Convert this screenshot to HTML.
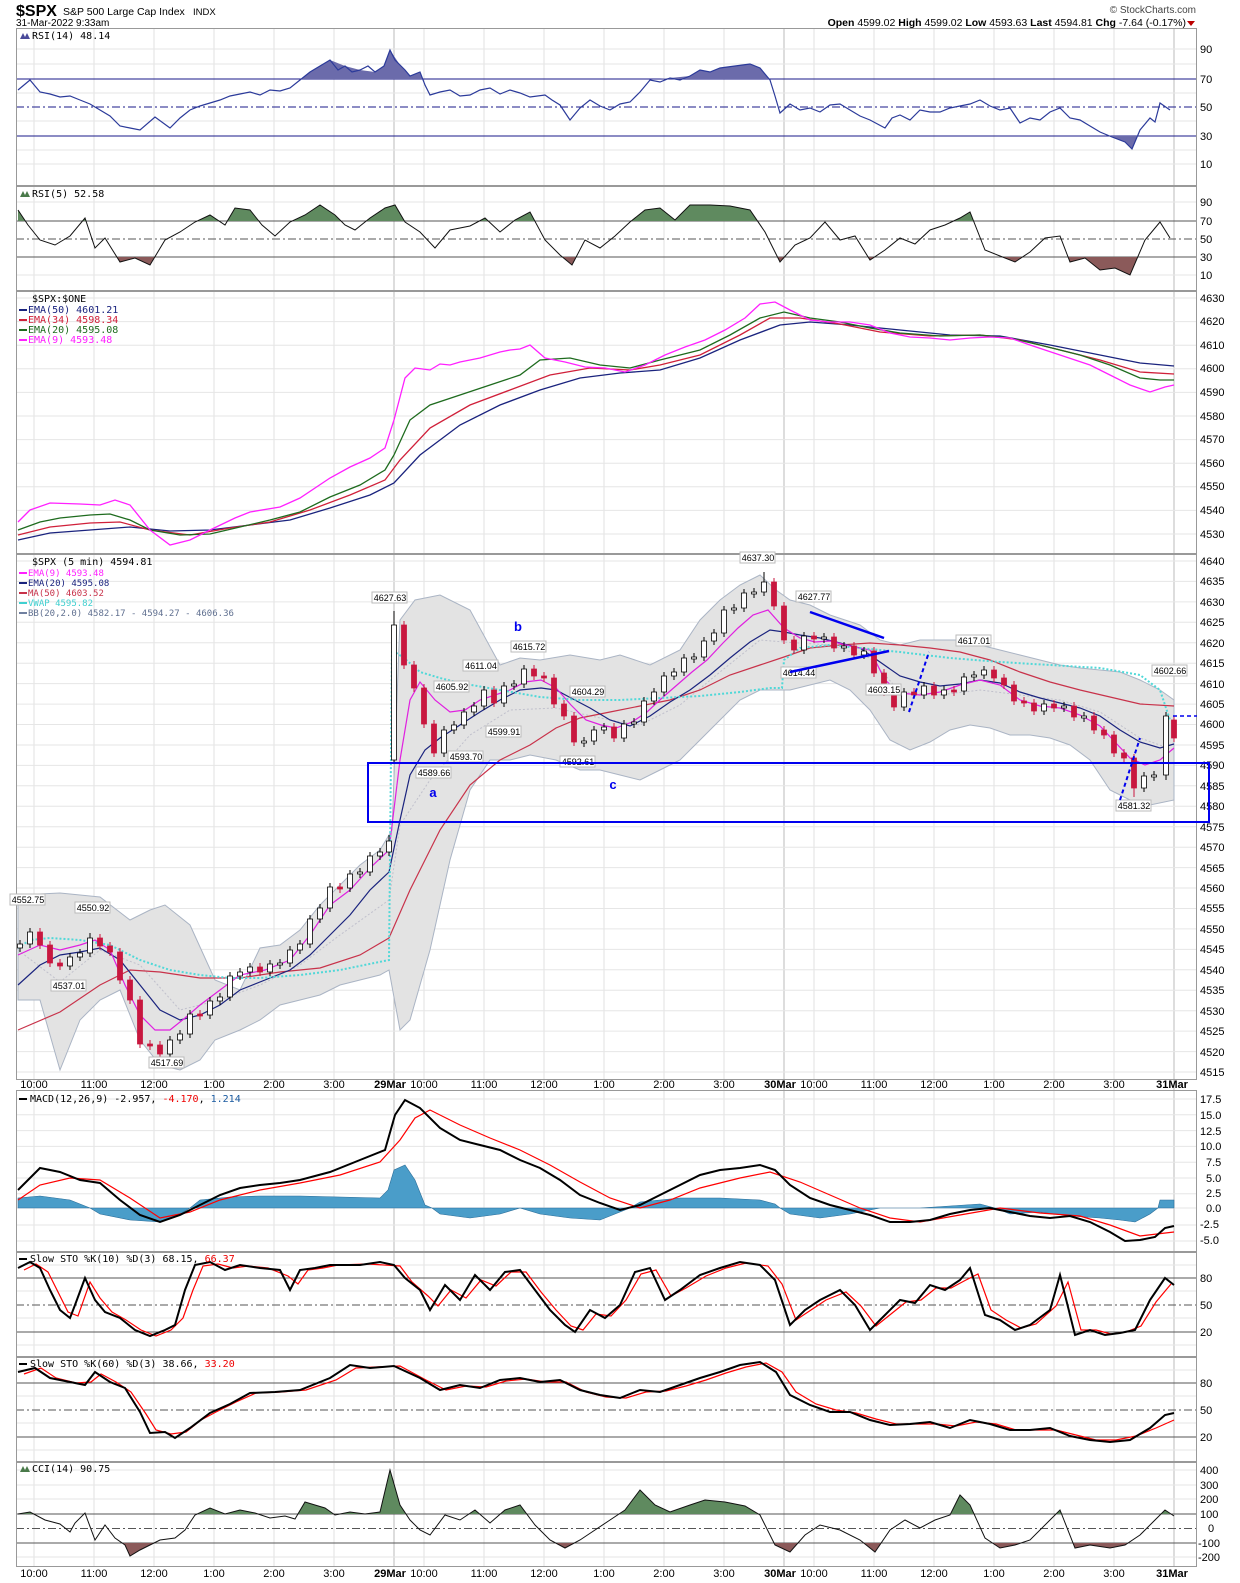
<!DOCTYPE html>
<html><head><meta charset="utf-8">
<style>
html,body{margin:0;padding:0;background:#fff;}
svg{display:block;font-family:"Liberation Sans",sans-serif;}
.ax{font-size:11px;fill:#000;}
.lg{font-size:10px;font-family:"DejaVu Sans Mono","Liberation Mono",monospace;}
.an{font-size:9px;fill:#000;}
</style></head><body>
<svg xmlns="http://www.w3.org/2000/svg" width="1240" height="1583" viewBox="0 0 1240 1583">
<defs>
<clipPath id="cp4"><rect x="16" y="554" width="1181" height="526"/></clipPath>
<clipPath id="r14a"><rect x="16" y="28" width="1181" height="51"/></clipPath>
<clipPath id="r14b"><rect x="16" y="136" width="1181" height="50"/></clipPath>
<clipPath id="r5a"><rect x="16" y="186" width="1181" height="35"/></clipPath>
<clipPath id="r5b"><rect x="16" y="257" width="1181" height="34"/></clipPath>
<clipPath id="cca"><rect x="16" y="1462" width="1181" height="52"/></clipPath>
<clipPath id="ccb"><rect x="16" y="1543" width="1181" height="24"/></clipPath>
</defs>

<!-- header -->
<text x="16" y="16" style="font-size:16px;font-weight:bold">$SPX</text>
<text x="63" y="15" style="font-size:10.5px">S&amp;P 500 Large Cap Index</text>
<text x="193" y="15" style="font-size:9.5px">INDX</text>
<text x="16" y="26" style="font-size:10px">31-Mar-2022 9:33am</text>
<text x="1196" y="13" text-anchor="end" style="font-size:10px;fill:#444">© StockCharts.com</text>
<text x="1186" y="26" text-anchor="end" style="font-size:10.5px"><tspan font-weight="bold">Open</tspan> 4599.02 <tspan font-weight="bold">High</tspan> 4599.02 <tspan font-weight="bold">Low</tspan> 4593.63 <tspan font-weight="bold">Last</tspan> 4594.81 <tspan font-weight="bold">Chg</tspan> -7.64 (-0.17%)</text>
<path d="M1187,21 L1195,21 L1191,26 Z" fill="#b00"/>

<!-- grid -->
<path stroke="#e2e2e2" fill="none" d="M34,28V1567M94,28V1567M154,28V1567M214,28V1567M274,28V1567M334,28V1567M424,28V1567M484,28V1567M544,28V1567M604,28V1567M664,28V1567M724,28V1567M814,28V1567M874,28V1567M934,28V1567M994,28V1567M1054,28V1567M1114,28V1567"/>
<path stroke="#bbb" fill="none" d="M394,28V1567M784,28V1567M1174,28V1567"/>
<path stroke="#e6e6e6" fill="none" d="M16,49H1197M16,64H1197M16,93H1197M16,121H1197M16,150H1197M16,164H1197
M16,202H1197M16,275H1197
M16,298H1197M16,321.6H1197M16,345.2H1197M16,368.8H1197M16,392.4H1197M16,416H1197M16,439.6H1197M16,463.2H1197M16,486.8H1197M16,510.4H1197M16,534H1197
M16,561H1197M16,581.4H1197M16,601.9H1197M16,622.3H1197M16,642.8H1197M16,663.2H1197M16,683.6H1197M16,704.1H1197M16,724.5H1197M16,745H1197M16,765.4H1197M16,785.8H1197M16,806.3H1197M16,826.7H1197M16,847.2H1197M16,867.6H1197M16,888H1197M16,908.5H1197M16,928.9H1197M16,949.4H1197M16,969.8H1197M16,990.2H1197M16,1010.7H1197M16,1031.1H1197M16,1051.6H1197M16,1072H1197
M16,1099H1197M16,1114.8H1197M16,1130.6H1197M16,1146.4H1197M16,1162.2H1197M16,1178H1197M16,1193.8H1197M16,1208H1197M16,1225H1197M16,1241H1197
M16,1265H1197M16,1291H1197M16,1318H1197M16,1345H1197M16,1370H1197M16,1396H1197M16,1423H1197M16,1450H1197
M16,1470H1197M16,1485H1197M16,1499H1197M16,1557H1197"/>
<path stroke="#1a1a8a" fill="none" d="M16,79H1197M16,136H1197"/>
<path stroke="#1a1a8a" fill="none" stroke-dasharray="8,3,2,3" d="M16,107H1197"/>
<path stroke="#555" fill="none" d="M16,221H1197M16,257H1197M16,1278H1197M16,1332H1197M16,1383H1197M16,1437H1197M16,1514H1197M16,1543H1197"/>
<path stroke="#555" fill="none" stroke-dasharray="8,3,2,3" d="M16,239H1197M16,1305H1197M16,1410H1197M16,1528.5H1197"/>

<!-- RSI14 -->
<path clip-path="url(#r14a)" fill="#6b6bab" d="M18,90L30,80L40,92L60,97L80,100L100,110L120,126L140,130L155,117L170,128L190,110L210,103L230,96L250,92L270,90L290,88L300,80L310,72L320,66L330,60L345,66L360,70L375,72L384,66L390,50L400,65L410,76L420,72L430,95L450,90L470,95L490,88L510,90L530,97L545,95L560,105L570,120L590,100L610,110L630,102L650,80L670,78L690,76L700,70L710,72L720,68L735,66L750,64L760,68L770,80L780,113L1170,110L1170,79L18,79Z"/>
<path clip-path="url(#r14b)" fill="#6b6bab" d="M1080,120L1100,132L1112,137L1125,142L1132,149L1140,130L1150,118L1150,136L1080,136Z"/>
<path d="M18,90L30,80L40,92L50,94L60,97L70,96L80,100L90,104L100,110L110,116L120,126L130,128L140,130L155,117L170,128L180,118L190,110L200,106L210,103L220,100L230,96L240,94L250,92L260,95L270,90L280,91L290,88L300,80L310,72L320,66L330,60L338,70L345,66L352,72L360,70L368,66L375,72L384,66L390,50L395,60L400,65L405,70L410,76L420,72L425,85L430,95L440,92L450,90L460,96L470,95L480,90L490,88L500,94L510,90L520,93L530,97L545,95L552,100L560,105L570,120L580,108L590,100L600,106L610,110L620,104L630,102L640,92L650,80L660,82L670,78L680,80L690,76L700,70L710,72L720,68L735,66L750,64L760,68L770,80L775,96L780,113L790,104L800,110L810,108L820,112L830,105L840,104L850,110L860,116L870,120L885,128L892,118L900,115L910,120L920,110L930,112L940,112L950,108L960,106L970,104L980,100L990,106L1000,110L1010,108L1020,123L1030,118L1040,120L1050,112L1060,108L1070,118L1080,120L1090,126L1100,132L1112,137L1125,142L1132,149L1140,130L1150,118L1155,122L1160,103L1170,110" fill="none" stroke="#2b3a9a" stroke-width="1.2"/>

<!-- RSI5 -->
<path fill="#5f8a5f" clip-path="url(#r5a)" d="M18,210L28,225L40,240L55,245L70,236L85,218L95,248L105,238L120,262L135,258L150,265L165,240L180,232L195,222L210,215L225,225L235,208L250,210L262,225L275,236L290,222L305,215L320,205L335,215L345,225L355,230L370,218L385,208L395,205L405,222L420,232L435,248L450,230L470,226L485,218L500,232L515,220L530,212L545,240L560,255L572,265L585,240L600,248L615,236L630,222L645,210L660,208L675,220L690,205L710,205L730,206L750,210L765,232L780,262L795,245L810,238L825,222L840,240L855,236L870,260L885,250L900,238L915,244L930,230L945,225L960,218L970,212L985,250L1000,256L1015,262L1030,252L1045,238L1060,236L1070,262L1085,258L1100,270L1115,268L1130,275L1145,240L1160,222L1170,238L1170,221L18,221Z"/>
<path fill="#8b5a5a" clip-path="url(#r5b)" d="M18,210L28,225L40,240L55,245L70,236L85,218L95,248L105,238L120,262L135,258L150,265L165,240L180,232L195,222L210,215L225,225L235,208L250,210L262,225L275,236L290,222L305,215L320,205L335,215L345,225L355,230L370,218L385,208L395,205L405,222L420,232L435,248L450,230L470,226L485,218L500,232L515,220L530,212L545,240L560,255L572,265L585,240L600,248L615,236L630,222L645,210L660,208L675,220L690,205L710,205L730,206L750,210L765,232L780,262L795,245L810,238L825,222L840,240L855,236L870,260L885,250L900,238L915,244L930,230L945,225L960,218L970,212L985,250L1000,256L1015,262L1030,252L1045,238L1060,236L1070,262L1085,258L1100,270L1115,268L1130,275L1145,240L1160,222L1170,238L1170,257L18,257Z"/>
<path fill="none" stroke="#111" d="M18,210L28,225L40,240L55,245L70,236L85,218L95,248L105,238L120,262L135,258L150,265L165,240L180,232L195,222L210,215L225,225L235,208L250,210L262,225L275,236L290,222L305,215L320,205L335,215L345,225L355,230L370,218L385,208L395,205L405,222L420,232L435,248L450,230L470,226L485,218L500,232L515,220L530,212L545,240L560,255L572,265L585,240L600,248L615,236L630,222L645,210L660,208L675,220L690,205L710,205L730,206L750,210L765,232L780,262L795,245L810,238L825,222L840,240L855,236L870,260L885,250L900,238L915,244L930,230L945,225L960,218L970,212L985,250L1000,256L1015,262L1030,252L1045,238L1060,236L1070,262L1085,258L1100,270L1115,268L1130,275L1145,240L1160,222L1170,238"/>

<!-- EMA panel -->
<g fill="none" stroke-width="1.3">
<path stroke="#1a237e" d="M18,540L50,533L90,530L130,527L170,531L210,530L250,525L290,520L330,508L370,495L394,483L420,455L460,425L500,405L540,390L580,378L620,373L660,370L700,358L740,340L780,325L810,322L850,325L900,330L950,335L1000,336L1050,345L1100,355L1140,363L1174,366"/>
<path stroke="#d0203a" d="M18,535L50,527L90,523L120,522L150,530L190,535L230,528L270,522L310,510L350,495L385,480L400,460L430,428L470,405L510,390L550,375L590,368L630,370L660,365L700,355L740,335L770,318L800,318L840,324L880,332L930,336L980,335L1020,340L1060,350L1100,360L1140,372L1174,374"/>
<path stroke="#1e6b1e" d="M18,530L40,522L60,518L90,515L110,514L130,520L150,530L180,535L210,534L240,527L270,520L300,512L330,497L360,485L385,470L394,455L410,420L430,405L460,395L490,385L520,375L540,360L570,358L600,365L630,368L660,360L700,350L730,335L760,318L784,312L810,318L840,322L870,328L900,333L940,336L980,335L1010,338L1040,345L1080,355L1110,365L1140,378L1160,380L1174,380"/>
<path stroke="#ff20ff" d="M18,522L30,510L50,503L80,504L100,505L115,500L130,505L150,530L170,545L190,540L210,530L235,518L250,512L280,507L300,498L330,478L350,467L370,458L385,448L394,420L405,378L415,368L430,370L440,364L450,365L460,362L470,360L480,358L490,355L500,352L510,350L520,349L530,345L545,358L565,362L585,367L605,368L625,372L645,365L665,355L685,347L705,340L725,330L745,318L760,304L775,302L790,310L810,320L830,322L850,322L870,325L890,333L910,337L930,338L950,340L970,338L990,337L1010,338L1030,345L1060,355L1090,365L1110,375L1130,385L1150,392L1165,387L1174,385"/>
</g>

<!-- Price panel -->
<g clip-path="url(#cp4)">
<path fill="#e3e3e3" stroke="#aab4c4" d="M18,895L60,893L100,897L130,920L150,910L165,905L190,925L215,980L240,990L260,948L280,945L300,930L320,905L340,885L360,865L380,850L392,830L400,620L415,600L440,595L470,610L500,665L520,658L540,660L570,655L600,660L620,655L650,665L680,650L700,620L720,600L740,585L760,575L776,590L790,600L810,605L830,615L860,625L880,640L900,645L920,640L960,640L980,645L1000,650L1020,655L1040,660L1060,665L1080,668L1100,670L1120,672L1140,680L1160,690L1174,700L1174,800L1150,805L1130,800L1110,790L1090,760L1070,745L1050,738L1030,735L1010,735L990,728L970,725L950,730L930,742L910,750L890,740L870,710L850,690L830,680L810,685L790,690L760,690L740,700L720,720L700,740L680,760L660,770L640,780L620,775L600,770L580,770L556,760L530,755L510,760L490,760L470,790L450,860L430,950L410,1020L400,1030L389,970L380,975L360,980L340,985L320,995L300,1000L280,1005L260,1020L240,1030L215,1040L200,1060L180,1070L160,1065L140,1040L120,990L100,1000L80,1020L60,1070L40,1000L18,1000Z"/>
<path fill="none" stroke="#c0c0cc" stroke-dasharray="2,2" d="M18,950L60,982L100,950L140,965L180,1010L220,1000L260,985L300,965L340,935L389,900L400,825L430,780L470,735L510,710L556,708L600,718L640,725L680,705L720,672L760,640L784,642L830,645L870,658L900,692L940,695L980,690L1020,695L1060,700L1100,712L1140,738L1174,750"/>
<path fill="none" stroke="#c8324a" stroke-width="1.2" d="M18,1030L60,1012L100,985L130,970L160,972L200,978L240,978L280,972L320,968L360,955L389,938L410,890L440,830L470,785L500,760L530,745L556,728L580,718L610,712L640,706L670,700L700,690L730,675L760,665L784,657L810,648L840,645L870,643L900,645L930,648L960,652L990,660L1020,672L1050,682L1080,690L1110,697L1140,704L1174,706"/>
<path fill="none" stroke="#1a237e" stroke-width="1.2" d="M18,985L40,965L60,955L80,952L100,948L120,960L140,985L160,1010L180,1020L200,1015L220,1005L240,990L265,980L290,970L310,955L330,935L350,915L370,890L389,872L400,820L410,775L425,750L440,738L460,725L480,712L500,700L520,690L541,688L556,690L571,698L590,708L610,720L630,726L650,716L670,702L690,690L710,675L730,658L750,642L770,630L784,632L800,635L820,638L840,643L860,648L880,662L900,676L920,682L940,686L960,684L980,680L1000,683L1020,692L1040,698L1060,703L1080,708L1100,716L1120,730L1140,742L1160,748L1174,744"/>
<path fill="none" stroke="#e020e0" stroke-width="1.2" d="M18,955L40,945L60,950L80,945L95,940L110,950L125,985L140,1015L155,1030L170,1030L185,1018L200,1005L220,990L240,975L265,970L290,960L310,935L330,905L350,890L370,868L389,850L400,760L410,700L420,682L435,700L450,712L465,710L480,700L495,695L510,690L525,682L541,680L556,688L571,705L586,720L601,725L616,728L632,722L647,712L662,698L677,685L692,672L707,660L723,643L738,628L753,615L768,610L784,628L800,638L815,642L830,641L850,646L870,650L885,680L900,693L920,695L940,692L960,685L980,680L1000,685L1020,700L1040,706L1060,708L1080,715L1100,726L1115,742L1130,758L1145,765L1160,760L1174,748"/>
<path fill="none" stroke="#50d8d8" stroke-width="2" stroke-dasharray="2,2" d="M18,948L30,940L50,938L80,940L110,945L140,960L170,970L200,975L230,978L260,978L300,975L340,970L389,960L392,650L404,658L420,672L440,678L460,683L500,690L540,697L580,700L620,700L660,698L700,696L740,692L770,688L782,688L784,660L800,648L830,645L860,648L900,652L950,658L1000,662L1050,665L1100,668L1140,675L1160,690L1170,720"/>
<path fill="none" stroke="#000" d="M20,940V952M30,928V948M70,953V970M80,949V961M90,933V957M170,1036V1058M180,1030V1044M190,1010V1038M210,997V1019M220,993V1005M230,972V1001M240,968V980M250,963V976M270,960V976M280,959V969M290,946V967M300,940V954M310,915V948M320,904V923M330,883V912M350,870V892M360,868V878M370,852V876M380,848V860M389,835V856M394,611V764M444,726V757M454,721V734M464,708V729M474,702V716M484,686V710M504,682V707M514,680V690M524,665V688M584,737V747M594,726V745M604,723V734M624,720V742M634,718V728M644,697V726M654,688V705M664,672V696M674,668V680M684,654V676M694,653V663M704,637V661M714,629V645M724,606V637M734,604V614M744,589V612M754,588V598M764,572V596M804,632V654M824,633V643M844,642V652M864,647V659M904,688V711M924,682V699M944,686V699M964,673V695M974,671V681M984,666V679M1044,700V715M1064,702V712M1084,712V722M1144,772V792M1154,771V781M1166,712V780"/>
<path fill="none" stroke="#c8173f" d="M40,928V949M50,941V967M60,959V970M100,934V950M110,942V956M120,948V984M130,976V1004M140,996V1048M150,1040V1050M160,1041V1063M200,1010V1020M260,963V976M340,883V893M404,621V669M414,661V692M424,684V728M434,720V757M494,686V707M534,665V680M544,672V682M554,674V708M564,700V720M574,712V746M614,723V742M774,578V610M784,602V644M794,636V654M814,632V643M834,633V652M854,642V659M874,647V677M884,669V696M894,688V711M914,688V699M934,682V699M954,686V696M994,666V682M1004,674V689M1014,681V705M1024,697V707M1034,699V715M1054,700V712M1074,702V721M1094,712V734M1104,726V739M1114,731V757M1124,749V762M1134,754V797M1174,716V742"/>
<path fill="#fff" stroke="#000" stroke-width="0.8" d="M17.5,944h5v4h-5zM27.5,932h5v12h-5zM67.5,957h5v9h-5zM77.5,953h5v4h-5zM87.5,938h5v15h-5zM167.5,1040h5v14h-5zM177.5,1034h5v6h-5zM187.5,1014h5v20h-5zM207.5,1001h5v14h-5zM217.5,997h5v4h-5zM227.5,976h5v21h-5zM237.5,972h5v4h-5zM247.5,967h5v5h-5zM267.5,964h5v8h-5zM277.5,963h5v2h-5zM287.5,950h5v13h-5zM297.5,944h5v6h-5zM307.5,919h5v25h-5zM317.5,908h5v11h-5zM327.5,887h5v21h-5zM347.5,874h5v14h-5zM357.5,872h5v2h-5zM367.5,856h5v16h-5zM377.5,852h5v4h-5zM386.5,841h5v11h-5zM391.5,625h5v135h-5zM441.5,730h5v23h-5zM451.5,725h5v5h-5zM461.5,712h5v13h-5zM471.5,706h5v6h-5zM481.5,690h5v16h-5zM501.5,686h5v17h-5zM511.5,684h5v2h-5zM521.5,669h5v15h-5zM581.5,741h5v2h-5zM591.5,730h5v11h-5zM601.5,727h5v3h-5zM621.5,724h5v14h-5zM631.5,722h5v2h-5zM641.5,701h5v21h-5zM651.5,692h5v9h-5zM661.5,676h5v16h-5zM671.5,672h5v4h-5zM681.5,658h5v14h-5zM691.5,657h5v2h-5zM701.5,641h5v16h-5zM711.5,633h5v8h-5zM721.5,610h5v23h-5zM731.5,608h5v2h-5zM741.5,593h5v15h-5zM751.5,592h5v2h-5zM761.5,582h5v10h-5zM801.5,636h5v14h-5zM821.5,637h5v2h-5zM841.5,646h5v2h-5zM861.5,651h5v4h-5zM901.5,692h5v15h-5zM921.5,686h5v9h-5zM941.5,690h5v5h-5zM961.5,677h5v14h-5zM971.5,675h5v2h-5zM981.5,670h5v5h-5zM1041.5,704h5v7h-5zM1061.5,706h5v2h-5zM1081.5,716h5v2h-5zM1141.5,776h5v12h-5zM1151.5,775h5v2h-5zM1163.5,716h5v59h-5z"/>
<path fill="#c8173f" stroke="#c8173f" stroke-width="0.8" d="M37.5,932h5v13h-5zM47.5,945h5v18h-5zM57.5,963h5v3h-5zM97.5,938h5v8h-5zM107.5,946h5v6h-5zM117.5,952h5v28h-5zM127.5,980h5v20h-5zM137.5,1000h5v44h-5zM147.5,1044h5v2h-5zM157.5,1045h5v9h-5zM197.5,1014h5v2h-5zM257.5,967h5v5h-5zM337.5,887h5v2h-5zM401.5,625h5v40h-5zM411.5,665h5v23h-5zM421.5,688h5v36h-5zM431.5,724h5v29h-5zM491.5,690h5v13h-5zM531.5,669h5v7h-5zM541.5,676h5v2h-5zM551.5,678h5v26h-5zM561.5,704h5v12h-5zM571.5,716h5v26h-5zM611.5,727h5v11h-5zM771.5,582h5v24h-5zM781.5,606h5v34h-5zM791.5,640h5v10h-5zM811.5,636h5v3h-5zM831.5,637h5v11h-5zM851.5,646h5v9h-5zM871.5,651h5v22h-5zM881.5,673h5v19h-5zM891.5,692h5v15h-5zM911.5,692h5v3h-5zM931.5,686h5v9h-5zM951.5,690h5v2h-5zM991.5,670h5v8h-5zM1001.5,678h5v7h-5zM1011.5,685h5v16h-5zM1021.5,701h5v2h-5zM1031.5,703h5v8h-5zM1051.5,704h5v4h-5zM1071.5,706h5v11h-5zM1091.5,716h5v14h-5zM1101.5,730h5v5h-5zM1111.5,735h5v18h-5zM1121.5,753h5v5h-5zM1131.5,758h5v30h-5zM1171.5,720h5v18h-5z"/>
</g>

<!-- MACD -->
<path fill="#4a9dc9" stroke="#2a6d99" stroke-width="0.6" d="M18,1208L18,1198L40,1196L70,1200L90,1208L100,1214L130,1220L160,1222L180,1214L190,1208L200,1200L230,1197L260,1196L300,1196L340,1197L380,1198L388,1190L394,1170L405,1165L415,1180L425,1205L432,1208L440,1214L470,1218L500,1214L520,1208L540,1214L570,1218L600,1220L620,1212L630,1208L640,1202L680,1198L720,1198L760,1200L775,1204L780,1208L790,1214L820,1218L850,1214L870,1210L880,1208L920,1208L950,1206L980,1204L995,1208L1010,1214L1040,1212L1070,1216L1100,1218L1120,1220L1135,1222L1150,1214L1158,1208L1160,1200L1174,1200L1174,1208Z"/>
<path fill="none" stroke="#f00" stroke-width="1.2" d="M18,1200L40,1185L70,1178L100,1180L130,1198L160,1218L190,1212L220,1200L260,1190L300,1183L340,1175L380,1162L400,1140L415,1118L430,1110L460,1125L490,1138L520,1150L550,1165L580,1182L610,1198L640,1208L670,1200L700,1188L740,1178L770,1172L800,1182L830,1195L860,1208L890,1218L920,1222L960,1215L1000,1208L1040,1213L1080,1216L1110,1225L1140,1236L1174,1232"/>
<path fill="none" stroke="#000" stroke-width="2" d="M18,1190L40,1168L60,1172L80,1180L100,1183L120,1200L140,1215L160,1222L180,1215L200,1205L220,1195L240,1188L260,1185L280,1183L300,1180L330,1172L360,1160L385,1150L395,1115L405,1100L420,1108L440,1128L460,1140L480,1145L500,1150L520,1160L540,1168L560,1180L580,1195L600,1203L620,1210L640,1205L660,1195L680,1185L700,1175L720,1170L740,1168L760,1165L775,1170L790,1185L810,1198L830,1205L850,1210L870,1215L890,1222L910,1222L930,1220L950,1214L970,1210L990,1208L1010,1212L1030,1216L1050,1218L1070,1216L1090,1222L1110,1232L1125,1241L1140,1240L1155,1237L1165,1228L1174,1226"/>

<!-- STO10 -->
<path fill="none" stroke="#f00" stroke-width="1.2" d="M24,1270L36,1264L48,1272L58,1292L68,1312L78,1316L90,1282L100,1298L112,1312L126,1320L141,1330L156,1336L171,1330L183,1318L193,1290L203,1266L218,1264L233,1268L248,1266L268,1268L288,1276L298,1284L308,1270L323,1268L338,1265L368,1264L400,1266L412,1282L428,1296L438,1306L451,1290L466,1298L481,1280L496,1286L511,1272L526,1272L541,1292L556,1310L571,1326L583,1330L596,1314L611,1316L626,1300L641,1274L656,1270L671,1296L686,1288L706,1276L726,1268L746,1263L768,1266L782,1284L796,1320L811,1310L826,1300L846,1292L861,1306L876,1326L891,1314L906,1302L921,1300L936,1288L951,1288L966,1280L978,1274L991,1310L1006,1320L1021,1328L1036,1324L1056,1306L1068,1282L1081,1330L1096,1330L1111,1334L1126,1332L1141,1326L1156,1302L1171,1284"/>
<path fill="none" stroke="#000" stroke-width="2" d="M18,1268L30,1262L40,1268L50,1290L60,1310L70,1318L75,1305L85,1278L95,1300L105,1312L120,1318L135,1330L150,1336L165,1330L175,1325L185,1290L195,1265L210,1262L225,1270L240,1265L260,1268L280,1270L290,1290L300,1270L315,1268L330,1265L360,1265L380,1262L394,1265L405,1278L420,1290L430,1310L445,1285L460,1300L475,1275L490,1290L505,1272L520,1270L535,1290L550,1310L565,1325L575,1332L590,1310L605,1318L620,1305L635,1272L650,1268L665,1300L680,1290L700,1275L720,1268L740,1262L760,1265L775,1280L790,1325L805,1310L820,1300L840,1290L855,1305L870,1330L885,1315L900,1300L915,1303L930,1285L945,1290L960,1280L970,1268L985,1315L1000,1320L1015,1330L1030,1325L1050,1310L1060,1275L1075,1335L1090,1330L1105,1335L1120,1333L1135,1330L1150,1300L1165,1278L1174,1285"/>

<!-- STO60 -->
<path fill="none" stroke="#f00" stroke-width="1.2" d="M24,1374L41,1368L56,1378L76,1383L91,1382L101,1374L116,1382L131,1392L146,1414L156,1430L171,1434L186,1432L201,1420L216,1412L236,1402L256,1393L281,1392L306,1390L336,1380L356,1368L376,1367L400,1366L426,1380L446,1390L466,1386L486,1387L506,1381L526,1379L546,1382L566,1382L586,1392L606,1397L626,1398L646,1392L666,1391L686,1386L706,1380L726,1373L746,1367L766,1363L782,1372L796,1392L816,1404L836,1410L856,1413L876,1419L896,1424L916,1424L936,1424L956,1426L976,1422L996,1424L1016,1430L1036,1430L1056,1430L1076,1435L1096,1440L1116,1440L1136,1436L1156,1428L1174,1420"/>
<path fill="none" stroke="#000" stroke-width="2" d="M18,1372L35,1368L50,1378L70,1382L85,1385L95,1372L110,1382L125,1388L140,1412L150,1433L165,1432L175,1438L190,1428L210,1413L230,1404L250,1393L275,1392L300,1390L330,1378L350,1365L370,1368L394,1366L420,1378L440,1390L460,1385L480,1388L500,1380L520,1378L540,1382L560,1380L580,1390L600,1395L620,1398L640,1390L660,1392L680,1385L700,1378L720,1372L740,1365L760,1362L776,1372L790,1395L810,1405L830,1412L850,1412L870,1420L890,1425L910,1424L930,1422L950,1428L970,1420L990,1424L1010,1430L1030,1430L1050,1428L1070,1436L1090,1440L1110,1442L1130,1440L1150,1428L1165,1415L1174,1413"/>

<!-- CCI -->
<g clip-path="url(#cca)"><path fill="#5f8a5f" d="M18,1514L30,1512L45,1520L60,1524L70,1532L75,1523L85,1513L95,1540L105,1525L115,1538L125,1545L130,1556L140,1550L150,1545L160,1540L175,1538L185,1530L195,1515L210,1508L225,1514L240,1510L255,1513L270,1518L285,1516L295,1519L305,1502L315,1505L325,1508L335,1515L350,1512L365,1514L380,1512L390,1470L400,1505L410,1520L420,1530L430,1535L445,1515L460,1520L475,1510L490,1523L505,1510L520,1505L535,1525L550,1540L565,1548L580,1540L595,1530L610,1520L625,1510L640,1490L655,1505L670,1512L690,1505L705,1500L725,1502L745,1506L760,1515L775,1545L790,1552L805,1535L820,1525L840,1530L860,1540L875,1552L890,1530L905,1520L920,1528L935,1520L950,1515L960,1495L970,1505L985,1538L1000,1548L1015,1545L1030,1540L1050,1520L1060,1510L1075,1548L1090,1545L1110,1548L1125,1545L1140,1535L1155,1520L1165,1510L1174,1516L1174,1514L18,1514Z"/></g>
<g clip-path="url(#ccb)"><path fill="#8b5a5a" d="M18,1514L30,1512L45,1520L60,1524L70,1532L75,1523L85,1513L95,1540L105,1525L115,1538L125,1545L130,1556L140,1550L150,1545L160,1540L175,1538L185,1530L195,1515L210,1508L225,1514L240,1510L255,1513L270,1518L285,1516L295,1519L305,1502L315,1505L325,1508L335,1515L350,1512L365,1514L380,1512L390,1470L400,1505L410,1520L420,1530L430,1535L445,1515L460,1520L475,1510L490,1523L505,1510L520,1505L535,1525L550,1540L565,1548L580,1540L595,1530L610,1520L625,1510L640,1490L655,1505L670,1512L690,1505L705,1500L725,1502L745,1506L760,1515L775,1545L790,1552L805,1535L820,1525L840,1530L860,1540L875,1552L890,1530L905,1520L920,1528L935,1520L950,1515L960,1495L970,1505L985,1538L1000,1548L1015,1545L1030,1540L1050,1520L1060,1510L1075,1548L1090,1545L1110,1548L1125,1545L1140,1535L1155,1520L1165,1510L1174,1516L1174,1543L18,1543Z"/></g>
<path fill="none" stroke="#111" d="M18,1514L30,1512L45,1520L60,1524L70,1532L75,1523L85,1513L95,1540L105,1525L115,1538L125,1545L130,1556L140,1550L150,1545L160,1540L175,1538L185,1530L195,1515L210,1508L225,1514L240,1510L255,1513L270,1518L285,1516L295,1519L305,1502L315,1505L325,1508L335,1515L350,1512L365,1514L380,1512L390,1470L400,1505L410,1520L420,1530L430,1535L445,1515L460,1520L475,1510L490,1523L505,1510L520,1505L535,1525L550,1540L565,1548L580,1540L595,1530L610,1520L625,1510L640,1490L655,1505L670,1512L690,1505L705,1500L725,1502L745,1506L760,1515L775,1545L790,1552L805,1535L820,1525L840,1530L860,1540L875,1552L890,1530L905,1520L920,1528L935,1520L950,1515L960,1495L970,1505L985,1538L1000,1548L1015,1545L1030,1540L1050,1520L1060,1510L1075,1548L1090,1545L1110,1548L1125,1545L1140,1535L1155,1520L1165,1510L1174,1516"/>

<!-- panel frames -->
<g fill="none" stroke="#999" stroke-width="1">
<rect x="16.5" y="28.5" width="1180" height="157"/>
<rect x="16.5" y="186.5" width="1180" height="104"/>
<rect x="16.5" y="291.5" width="1180" height="262"/>
<rect x="16.5" y="554.5" width="1180" height="525"/>
<rect x="16.5" y="1090.5" width="1180" height="161"/>
<rect x="16.5" y="1252.5" width="1180" height="104"/>
<rect x="16.5" y="1357.5" width="1180" height="104"/>
<rect x="16.5" y="1462.5" width="1180" height="104"/>
</g>

<!-- right axis labels -->
<g class="ax">
<text x="1200" y="53">90</text><text x="1200" y="83">70</text><text x="1200" y="111">50</text><text x="1200" y="140">30</text><text x="1200" y="168">10</text>
<text x="1200" y="206">90</text><text x="1200" y="225">70</text><text x="1200" y="243">50</text><text x="1200" y="261">30</text><text x="1200" y="279">10</text>
<text x="1200" y="302">4630</text><text x="1200" y="325">4620</text><text x="1200" y="349">4610</text><text x="1200" y="372">4600</text><text x="1200" y="396">4590</text><text x="1200" y="420">4580</text><text x="1200" y="443">4570</text><text x="1200" y="467">4560</text><text x="1200" y="490">4550</text><text x="1200" y="514">4540</text><text x="1200" y="538">4530</text>
<text x="1200" y="565">4640</text><text x="1200" y="585">4635</text><text x="1200" y="606">4630</text><text x="1200" y="626">4625</text><text x="1200" y="647">4620</text><text x="1200" y="667">4615</text><text x="1200" y="688">4610</text><text x="1200" y="708">4605</text><text x="1200" y="728">4600</text><text x="1200" y="749">4595</text><text x="1200" y="769">4590</text><text x="1200" y="790">4585</text><text x="1200" y="810">4580</text><text x="1200" y="831">4575</text><text x="1200" y="851">4570</text><text x="1200" y="872">4565</text><text x="1200" y="892">4560</text><text x="1200" y="912">4555</text><text x="1200" y="933">4550</text><text x="1200" y="953">4545</text><text x="1200" y="974">4540</text><text x="1200" y="994">4535</text><text x="1200" y="1015">4530</text><text x="1200" y="1035">4525</text><text x="1200" y="1056">4520</text><text x="1200" y="1076">4515</text>
<text x="1200" y="1103">17.5</text><text x="1200" y="1119">15.0</text><text x="1200" y="1135">12.5</text><text x="1200" y="1150">10.0</text><text x="1206" y="1166">7.5</text><text x="1206" y="1182">5.0</text><text x="1206" y="1197">2.5</text><text x="1206" y="1212">0.0</text><text x="1200" y="1228">-2.5</text><text x="1200" y="1244">-5.0</text>
<text x="1200" y="1282">80</text><text x="1200" y="1309">50</text><text x="1200" y="1336">20</text>
<text x="1200" y="1387">80</text><text x="1200" y="1414">50</text><text x="1200" y="1441">20</text>
<text x="1200" y="1474">400</text><text x="1200" y="1489">300</text><text x="1200" y="1503">200</text><text x="1200" y="1518">100</text><text x="1208" y="1532">0</text><text x="1198" y="1547">-100</text><text x="1198" y="1561">-200</text>
</g>

<!-- time axis labels -->
<g class="ax" text-anchor="middle">
<text x="34" y="1088">10:00</text><text x="94" y="1088">11:00</text><text x="154" y="1088">12:00</text><text x="214" y="1088">1:00</text><text x="274" y="1088">2:00</text><text x="334" y="1088">3:00</text><text x="390" y="1088" font-weight="bold">29Mar</text><text x="424" y="1088">10:00</text><text x="484" y="1088">11:00</text><text x="544" y="1088">12:00</text><text x="604" y="1088">1:00</text><text x="664" y="1088">2:00</text><text x="724" y="1088">3:00</text><text x="780" y="1088" font-weight="bold">30Mar</text><text x="814" y="1088">10:00</text><text x="874" y="1088">11:00</text><text x="934" y="1088">12:00</text><text x="994" y="1088">1:00</text><text x="1054" y="1088">2:00</text><text x="1114" y="1088">3:00</text><text x="1172" y="1088" font-weight="bold">31Mar</text>
<text x="34" y="1577">10:00</text><text x="94" y="1577">11:00</text><text x="154" y="1577">12:00</text><text x="214" y="1577">1:00</text><text x="274" y="1577">2:00</text><text x="334" y="1577">3:00</text><text x="390" y="1577" font-weight="bold">29Mar</text><text x="424" y="1577">10:00</text><text x="484" y="1577">11:00</text><text x="544" y="1577">12:00</text><text x="604" y="1577">1:00</text><text x="664" y="1577">2:00</text><text x="724" y="1577">3:00</text><text x="780" y="1577" font-weight="bold">30Mar</text><text x="814" y="1577">10:00</text><text x="874" y="1577">11:00</text><text x="934" y="1577">12:00</text><text x="994" y="1577">1:00</text><text x="1054" y="1577">2:00</text><text x="1114" y="1577">3:00</text><text x="1172" y="1577" font-weight="bold">31Mar</text>
</g>

<!-- legends -->
<g class="lg">
<path d="M20,39 l3,-6 l2,4 l2,-4 l3,6 z" fill="#4a4a9a"/><text x="32" y="39">RSI(14) 48.14</text>
<path d="M20,197 l3,-6 l2,4 l2,-4 l3,6 z" fill="#4a7a4a"/><text x="32" y="197">RSI(5) 52.58</text>
<text x="32" y="302">$SPX:$ONE</text>
<rect x="19" y="309" width="8" height="2" fill="#1a237e"/><text x="28" y="313" fill="#1a237e">EMA(50) 4601.21</text>
<rect x="19" y="319" width="8" height="2" fill="#d0203a"/><text x="28" y="323" fill="#d0203a">EMA(34) 4598.34</text>
<rect x="19" y="329" width="8" height="2" fill="#1e6b1e"/><text x="28" y="333" fill="#1e6b1e">EMA(20) 4595.08</text>
<rect x="19" y="339" width="8" height="2" fill="#ff20ff"/><text x="28" y="343" fill="#ff20ff">EMA(9) 4593.48</text>
<text x="32" y="565">$SPX (5 min) 4594.81</text>
<rect x="19" y="572" width="8" height="2" fill="#ff20ff"/><text x="28" y="576" fill="#ff20ff" font-size="9">EMA(9) 4593.48</text>
<rect x="19" y="582" width="8" height="2" fill="#1a237e"/><text x="28" y="586" fill="#1a237e" font-size="9">EMA(20) 4595.08</text>
<rect x="19" y="592" width="8" height="2" fill="#c8324a"/><text x="28" y="596" fill="#c8324a" font-size="9">MA(50) 4603.52</text>
<rect x="19" y="602" width="8" height="2" fill="#40d0d0"/><text x="28" y="606" fill="#40d0d0" font-size="9">VWAP 4595.82</text>
<rect x="19" y="612" width="8" height="2" fill="#7080a0"/><text x="28" y="616" fill="#607090" font-size="9">BB(20,2.0) 4582.17 - 4594.27 - 4606.36</text>
<rect x="19" y="1098" width="8" height="2" fill="#000"/><text x="30" y="1102">MACD(12,26,9) -2.957, <tspan fill="#e00">-4.170</tspan>, <tspan fill="#1a5aa0">1.214</tspan></text>
<rect x="19" y="1258" width="8" height="2" fill="#000"/><text x="30" y="1262">Slow STO %K(10) %D(3) 68.15, <tspan fill="#e00">66.37</tspan></text>
<rect x="19" y="1363" width="8" height="2" fill="#000"/><text x="30" y="1367">Slow STO %K(60) %D(3) 38.66, <tspan fill="#e00">33.20</tspan></text>
<path d="M20,1472 l3,-6 l2,4 l2,-4 l3,6 z" fill="#4a7a4a"/><text x="32" y="1472">CCI(14) 90.75</text>
</g>

<!-- annotations -->
<g fill="#fff" stroke="#bbb">
<rect x="372" y="592" width="35" height="11"/><rect x="10" y="894" width="35" height="11"/><rect x="75" y="902" width="35" height="11"/><rect x="51" y="980" width="35" height="11"/><rect x="149" y="1057" width="35" height="11"/>
<rect x="463" y="660" width="35" height="11"/><rect x="434" y="681" width="35" height="11"/><rect x="511" y="641" width="35" height="11"/><rect x="570" y="686" width="35" height="11"/><rect x="486" y="726" width="35" height="11"/><rect x="448" y="751" width="35" height="11"/><rect x="416" y="767" width="35" height="11"/><rect x="560" y="756" width="35" height="11"/>
<rect x="740" y="552" width="35" height="11"/><rect x="796" y="591" width="35" height="11"/><rect x="781" y="667" width="35" height="11"/><rect x="866" y="684" width="35" height="11"/><rect x="956" y="635" width="35" height="11"/><rect x="1152" y="665" width="35" height="11"/><rect x="1116" y="800" width="35" height="11"/>
</g>
<g class="an" text-anchor="middle">
<text x="390" y="601">4627.63</text><text x="28" y="903">4552.75</text><text x="93" y="911">4550.92</text><text x="69" y="989">4537.01</text><text x="167" y="1066">4517.69</text>
<text x="481" y="669">4611.04</text><text x="452" y="690">4605.92</text><text x="529" y="650">4615.72</text><text x="588" y="695">4604.29</text><text x="504" y="735">4599.91</text><text x="466" y="760">4593.70</text><text x="434" y="776">4589.66</text><text x="578" y="765">4592.61</text>
<text x="758" y="561">4637.30</text><text x="814" y="600">4627.77</text><text x="799" y="676">4614.44</text><text x="884" y="693">4603.15</text><text x="974" y="644">4617.01</text><text x="1170" y="674">4602.66</text><text x="1134" y="809">4581.32</text>
</g>
<g fill="#0000ee" style="font-size:13px;font-weight:bold" text-anchor="middle">
<text x="433" y="797">a</text><text x="518" y="631">b</text><text x="613" y="789">c</text>
</g>
<g fill="none" stroke="#0000ee">
<rect x="368" y="763" width="841" height="59" stroke-width="2"/>
<line x1="810" y1="612" x2="884" y2="638" stroke-width="2.5"/>
<line x1="790" y1="672" x2="889" y2="651" stroke-width="2.5"/>
<line x1="909" y1="712" x2="929" y2="652" stroke-width="2" stroke-dasharray="4,3"/>
<line x1="1120" y1="800" x2="1140" y2="738" stroke-width="2" stroke-dasharray="4,3"/>
<line x1="1173" y1="716" x2="1197" y2="716" stroke-width="1.5" stroke-dasharray="4,3"/>
</g>
</svg>
</body></html>
